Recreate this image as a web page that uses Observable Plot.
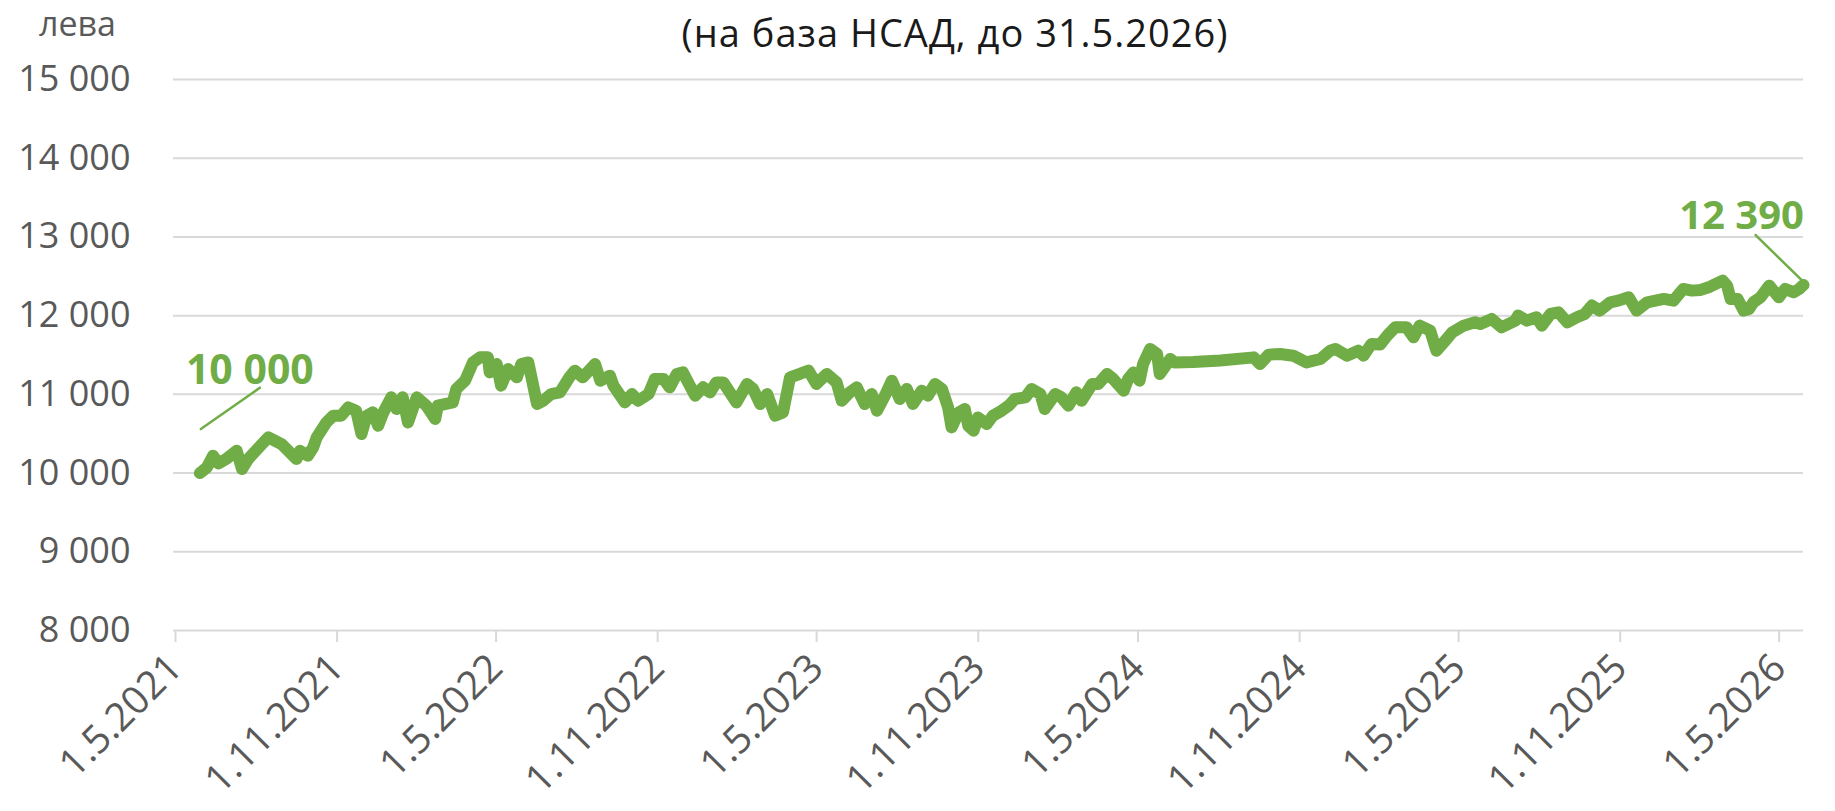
<!DOCTYPE html>
<html>
<head>
<meta charset="utf-8">
<script src="https://cdn.jsdelivr.net/npm/d3@7"></script>
<script src="https://cdn.jsdelivr.net/npm/@observablehq/plot@0.6"></script>
<style>
  body { margin: 0; background: #fff; font-family: "Open Sans", sans-serif; }
  #wrap { position: relative; width: 1835px; height: 811px; overflow: hidden; background: #fff; }
  #head { position: relative; height: 56px; }
  #unit { position: absolute; left: 39px; top: 0px; font-size: 34px; line-height: normal; color: #595959; white-space: nowrap; }
  #sub { position: absolute; left: 955px; top: 13px; transform: translateX(-50%); font-size: 38px; letter-spacing: 1px; line-height: 1; color: #1a1a1a; white-space: nowrap; }
  svg { display: block; }
</style>
</head>
<body>
<div id="wrap">
  <div id="head">
    <div id="unit">лева</div>
    <div id="sub">(на база НСАД, до 31.5.2026)</div>
  </div>
  <div id="chart"></div>
</div>
<script>
const dates = [
"2021-05-31","2021-06-08","2021-06-15","2021-06-21","2021-06-30","2021-07-12","2021-07-18","2021-07-25","2021-08-08","2021-08-17",
"2021-09-01","2021-09-18","2021-09-22","2021-10-01","2021-10-07","2021-10-11","2021-10-22","2021-10-30","2021-11-08","2021-11-16",
"2021-11-25","2021-12-01","2021-12-07","2021-12-14","2021-12-20","2021-12-26","2022-01-04","2022-01-10","2022-01-17","2022-01-23",
"2022-02-02","2022-02-13","2022-02-23","2022-02-26","2022-03-15","2022-03-19","2022-03-29","2022-04-07","2022-04-15","2022-04-24",
"2022-04-26","2022-05-04","2022-05-09","2022-05-17","2022-05-27","2022-06-01","2022-06-09","2022-06-19","2022-06-26","2022-07-05",
"2022-07-15","2022-07-26","2022-08-01","2022-08-10","2022-08-24","2022-08-30","2022-09-10","2022-09-14","2022-09-27","2022-10-05",
"2022-10-12","2022-10-24","2022-10-31","2022-11-10","2022-11-17","2022-11-25","2022-12-02","2022-12-16","2022-12-25","2023-01-02",
"2023-01-09","2023-01-17","2023-02-01","2023-02-13","2023-02-20","2023-02-28","2023-03-08","2023-03-17","2023-03-26","2023-04-03",
"2023-04-14","2023-04-24","2023-05-03","2023-05-15","2023-05-26","2023-06-01","2023-06-10","2023-06-18","2023-06-27","2023-07-05",
"2023-07-11","2023-07-20","2023-07-28","2023-08-06","2023-08-14","2023-08-21","2023-08-31","2023-09-07","2023-09-15","2023-09-23",
"2023-09-30","2023-10-04","2023-10-12","2023-10-19","2023-10-23","2023-10-29","2023-11-03","2023-11-13","2023-11-20","2023-11-30",
"2023-12-08","2023-12-15","2023-12-27","2024-01-03","2024-01-13","2024-01-18","2024-01-30","2024-02-06","2024-02-14","2024-02-23",
"2024-02-29","2024-03-12","2024-03-19","2024-03-29","2024-04-05","2024-04-17","2024-04-22","2024-04-28","2024-05-05","2024-05-09",
"2024-05-17","2024-05-25","2024-05-28","2024-06-05","2024-06-09","2024-06-14","2024-07-05","2024-08-05","2024-09-12","2024-09-19",
"2024-09-29","2024-10-12","2024-10-27","2024-11-11","2024-11-27","2024-12-08","2024-12-14","2024-12-27","2025-01-09","2025-01-15",
"2025-01-24","2025-02-03","2025-02-11","2025-02-20","2025-03-05","2025-03-13","2025-03-20","2025-04-01","2025-04-08","2025-04-18",
"2025-04-26","2025-05-09","2025-05-22","2025-05-28","2025-06-10","2025-06-21","2025-07-07","2025-07-10","2025-07-20","2025-07-31",
"2025-08-06","2025-08-16","2025-08-25","2025-09-04","2025-09-15","2025-09-24","2025-10-02","2025-10-11","2025-10-23","2025-11-01",
"2025-11-13","2025-11-22","2025-12-04","2025-12-23","2026-01-03","2026-01-14","2026-01-24","2026-02-03","2026-02-12","2026-02-20",
"2026-02-28","2026-03-05","2026-03-09","2026-03-17","2026-03-24","2026-03-30","2026-04-04","2026-04-12","2026-04-22","2026-05-03",
"2026-05-10","2026-05-20","2026-05-26","2026-05-31"
];
const values = [
10000,10071,10220,10122,10178,10283,10051,10178,10347,10453,
10369,10178,10283,10220,10325,10453,10643,10729,10729,10834,
10792,10496,10729,10771,10601,10771,10962,10814,10962,10643,
10962,10856,10687,10856,10898,11068,11174,11406,11470,11470,
11279,11385,11110,11322,11216,11385,11406,10877,10919,11004,
11025,11220,11301,11216,11385,11174,11237,11110,10898,11004,
10919,11004,11195,11195,11089,11259,11279,10983,11089,11025,
11152,11152,10898,11132,11068,10877,11004,10729,10771,11216,
11259,11301,11132,11259,11152,10919,11025,11089,10877,11004,
10792,10983,11174,10941,11068,10877,11047,10983,11132,11068,
10834,10580,10771,10814,10601,10538,10707,10623,10729,10792,
10856,10941,10962,11068,11004,10814,11004,10962,10856,11025,
10919,11132,11132,11259,11195,11047,11195,11279,11174,11385,
11577,11513,11259,11385,11449,11406,11410,11430,11470,11385,
11504,11513,11491,11406,11449,11555,11577,11491,11555,11491,
11640,11633,11746,11852,11852,11725,11873,11809,11555,11682,
11788,11873,11915,11894,11958,11852,11937,12001,11937,11979,
11873,12022,12043,11915,11979,12022,12128,12064,12170,12191,
12233,12064,12170,12212,12191,12339,12318,12327,12360,12403,
12445,12381,12212,12212,12064,12085,12170,12233,12381,12233,
12339,12297,12339,12390
];
const yTicks = [8000, 9000, 10000, 11000, 12000, 13000, 14000, 15000];
const xTickDates = ["2021-05-01","2021-11-01","2022-05-01","2022-11-01","2023-05-01","2023-11-01",
                    "2024-05-01","2024-11-01","2025-05-01","2025-11-01","2026-05-01"];
const xDomain = ["2021-05-01", "2026-05-31"];

const data = dates.map((d, i) => ({date: new Date(d), value: values[i]}));
const first = data[0];
const last = data[data.length - 1];
const green = "#70AD47";
const gray = "#595959";
const fmtNum = v => d3.format(",")(v).replace(/,/g, " ");
const fmtDate = d => `${d.getUTCDate()}.${d.getUTCMonth() + 1}.${d.getUTCFullYear()}`;

const chart = Plot.plot({
  width: 1835,
  height: 755,
  marginTop: 23,
  marginBottom: 181,
  marginLeft: 173,
  marginRight: 32,
  style: {fontFamily: '"Open Sans", sans-serif', color: gray, background: "white", overflow: "visible"},
  x: {type: "utc", domain: xDomain.map(d => new Date(d))},
  y: {domain: [8000, 15000]},
  marks: [
    Plot.gridY(yTicks, {stroke: "#d9d9d9", strokeOpacity: 1, strokeWidth: 2}),
    Plot.axisY(yTicks, {tickSize: 0, tickPadding: 43, fontSize: 36, tickFormat: fmtNum, label: null, fill: gray}),
    Plot.axisX(xTickDates.map(d => new Date(d)), {
      tickRotate: -45, tickSize: 12, tickPadding: 19, dx: 2,
      stroke: "#d9d9d9", strokeWidth: 2, strokeOpacity: 1,
      fontSize: 39, tickFormat: fmtDate, label: null, fill: gray
    }),
    Plot.line(data, {x: "date", y: "value", stroke: green, strokeWidth: 12, strokeLinejoin: "round", strokeLinecap: "round"}),
    Plot.vector([first], {x: "date", y: "value", length: 72, rotate: 55, anchor: "start", dx: 1, dy: -44,
      stroke: green, strokeWidth: 2.5, r: 0.001}),
    Plot.vector([last], {x: "date", y: "value", length: 67, rotate: -45.6, anchor: "start", dy: -3,
      stroke: green, strokeWidth: 2.5, r: 0.001}),
    Plot.text([first], {x: "date", y: "value", text: d => fmtNum(d.value), dx: 50, dy: -102,
      fontSize: 41, fontWeight: "bold", fill: green}),
    Plot.text([last], {x: "date", y: "value", text: d => fmtNum(d.value), dx: -62, dy: -69,
      fontSize: 40, fontWeight: "bold", fill: green})
  ]
});
document.getElementById("chart").appendChild(chart);
</script>
</body>
</html>
